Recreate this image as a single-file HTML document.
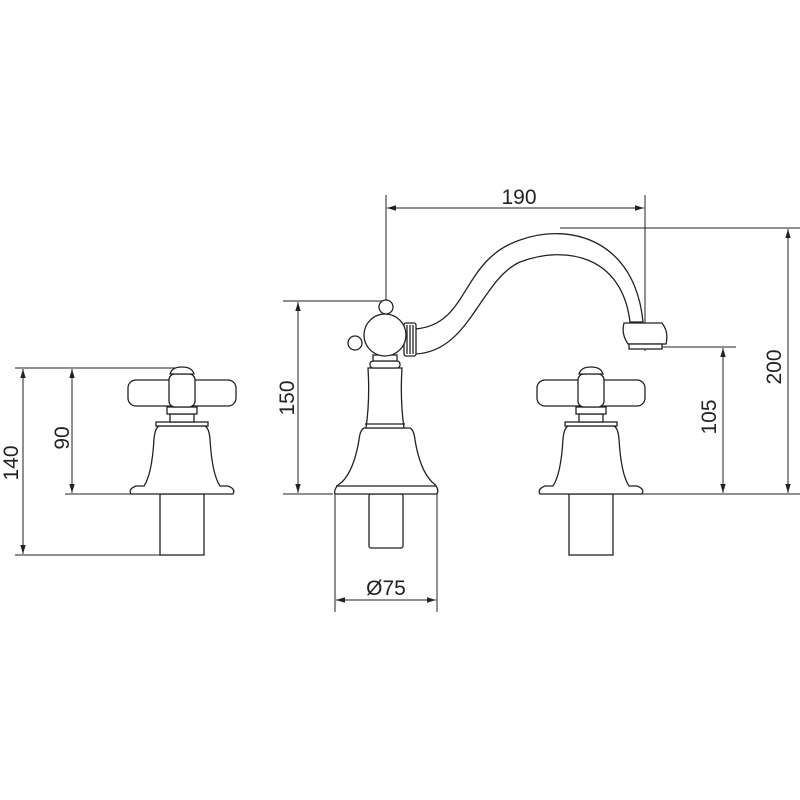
<!DOCTYPE html>
<html><head><style>
html,body{margin:0;padding:0;background:#fff}
svg{display:block}
text{font-family:"Liberation Sans",sans-serif;font-size:21px;fill:#222}
</style></head><body>
<svg width="800" height="800" viewBox="0 0 800 800" xmlns="http://www.w3.org/2000/svg">
<defs>
<marker id="a" viewBox="0 0 10 10" refX="10" refY="5" markerWidth="9" markerHeight="9" orient="auto-start-reverse"><path d="M0,2 L10,5 L0,8 z" fill="#222"/></marker>
<g id="tap" fill="#fff" stroke="#222" stroke-width="1.3">
<rect x="-22" y="0" width="44" height="61"/>
<path d="M-51,0 L51,0 Q54,-5 46,-8 L38,-8 Q30,-20 28,-55 Q27,-66 23,-68 L-23,-68 Q-27,-66 -28,-55 Q-30,-20 -38,-8 L-46,-8 Q-54,-5 -51,0 Z"/>
<rect x="-26" y="-72" width="52" height="4"/>
<rect x="-12" y="-80" width="24" height="8"/>
<rect x="-15" y="-87" width="30" height="7"/>
<rect x="-54" y="-114" width="108" height="26" rx="8"/>
<rect x="-13" y="-120" width="26" height="33" rx="6"/>
<path d="M-12,-120 Q-10,-127 0,-127 Q10,-127 12,-120 Z"/>
</g>
</defs>
<g stroke="#222" stroke-width="1" fill="none">
<line x1="15" y1="368" x2="182" y2="368"/>
<line x1="65" y1="494" x2="131" y2="494"/>
<line x1="15" y1="555" x2="204" y2="555"/>
<line x1="23" y1="369" x2="23" y2="554" marker-start="url(#a)" marker-end="url(#a)"/>
<line x1="72" y1="369" x2="72" y2="493" marker-start="url(#a)" marker-end="url(#a)"/>
<line x1="283" y1="301" x2="385" y2="301"/>
<line x1="283" y1="494" x2="333" y2="494"/>
<line x1="298" y1="302" x2="298" y2="493" marker-start="url(#a)" marker-end="url(#a)"/>
<line x1="386" y1="195" x2="386" y2="300"/>
<line x1="645" y1="195" x2="645" y2="351"/>
<line x1="387" y1="208" x2="644" y2="208" marker-start="url(#a)" marker-end="url(#a)"/>
<line x1="335" y1="494" x2="335" y2="612"/>
<line x1="437" y1="494" x2="437" y2="612"/>
<line x1="336" y1="600" x2="436" y2="600" marker-start="url(#a)" marker-end="url(#a)"/>
<line x1="560" y1="228" x2="800" y2="228"/>
<line x1="642" y1="494" x2="800" y2="494"/>
<line x1="650" y1="347" x2="736" y2="347"/>
<line x1="723" y1="348" x2="723" y2="493" marker-start="url(#a)" marker-end="url(#a)"/>
<line x1="788" y1="229" x2="788" y2="493" marker-start="url(#a)" marker-end="url(#a)"/>
</g>
<use href="#tap" x="182" y="494"/>
<use href="#tap" x="591" y="494"/>
<g fill="#fff" stroke="#222" stroke-width="1.3">
<path d="M415,329 C470,325 460,260 520,240 C570,222 635,240 643,322 L630,322 C622,255 565,245 520,262 C480,280 470,352 415,354 Z"/>
<path d="M624,323 L662,323 Q669,332 666,344 L628,344 Q621,334 624,323 Z"/>
<rect x="629" y="344" width="33" height="5"/>
<rect x="404" y="323" width="12" height="33" rx="2"/>
<line x1="407" y1="325" x2="407" y2="354"/><line x1="410" y1="325" x2="410" y2="354"/><line x1="413" y1="325" x2="413" y2="354"/>
<rect x="369" y="494" width="34" height="54" rx="2"/>
<path d="M335,494 L437,494 Q440,488 432,482 Q420,470 415,440 Q414,430 410,428 L364,428 Q360,430 359,440 Q354,470 342,482 Q333,488 335,494 Z"/>
<line x1="336" y1="486" x2="436" y2="486"/>
<path d="M366,428 Q370,400 368,368 L402,368 Q400,400 404,428 Z"/>
<line x1="365" y1="424" x2="405" y2="424"/>
<rect x="370" y="361" width="30" height="7" rx="3"/>
<rect x="373" y="355" width="24" height="6"/>
<circle cx="355" cy="343" r="7"/>
<circle cx="386" cy="307" r="7"/>
<circle cx="385" cy="335" r="21"/>
</g>
<text x="519" y="204" text-anchor="middle">190</text>
<text x="386" y="595" text-anchor="middle">Ø75</text>
<text transform="translate(18,463) rotate(-90)" text-anchor="middle">140</text>
<text transform="translate(69,438) rotate(-90)" text-anchor="middle">90</text>
<text transform="translate(294,398) rotate(-90)" text-anchor="middle">150</text>
<text transform="translate(716,417) rotate(-90)" text-anchor="middle">105</text>
<text transform="translate(781,367) rotate(-90)" text-anchor="middle">200</text>
</svg>
</body></html>
